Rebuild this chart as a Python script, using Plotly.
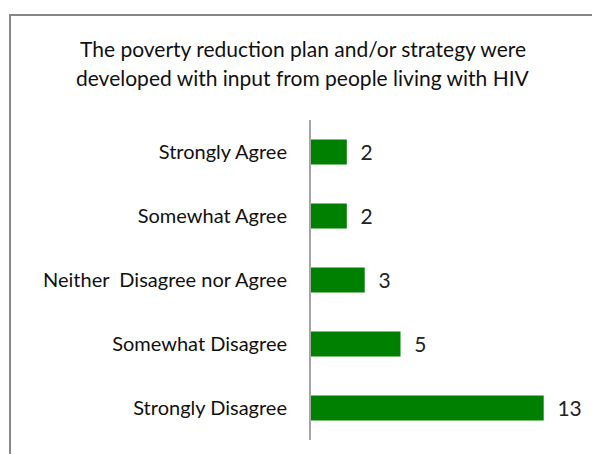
import plotly.graph_objects as go

categories = ["Strongly Agree", "Somewhat Agree", "Neither  Disagree nor Agree", "Somewhat Disagree", "Strongly Disagree"]
values = [2, 2, 3, 5, 13]
title_lines = ["The poverty reduction plan and/or strategy were", "developed with input from people living with HIV"]

W, H = 592, 454
L, R, T, B = 311, 12, 120, 14
pw = W - L - R
ph = H - T - B
FONT = "Lato, 'Open Sans', sans-serif"

fig = go.Figure(go.Bar(
    y=categories, x=values, orientation="h",
    marker=dict(color="#008000", line=dict(width=0)),
    width=0.39,
    text=["\u00a0\u00a0" + str(v) for v in values],
    textposition="outside", cliponaxis=False,
    textfont=dict(size=21, color="#222222", family=FONT),
))

def px_x(p):
    return (p - L) / pw

def px_y(p):
    return (H - B - p) / ph

shapes = [dict(type="rect", xref="paper", yref="paper",
               x0=px_x(10), x1=px_x(W + 20), y0=px_y(H + 20), y1=px_y(15),
               line=dict(color="#878787", width=2), fillcolor="rgba(0,0,0,0)")]

annotations = []
for i, line in enumerate(title_lines):
    annotations.append(dict(text=line, xref="paper", yref="paper",
                            x=px_x(303), y=px_y(49 + i * 28), showarrow=False,
                            xanchor="center", yanchor="middle",
                            font=dict(size=21, color="#111111", family=FONT)))

fig.update_layout(
    width=W, height=H,
    margin=dict(l=L, r=R, t=T, b=B, pad=0),
    paper_bgcolor="white", plot_bgcolor="white",
    showlegend=False,
    shapes=shapes, annotations=annotations,
    xaxis=dict(range=[0, pw / 17.9], visible=False, fixedrange=True),
    yaxis=dict(categoryorder="array", categoryarray=categories, autorange="reversed",
               showline=True, linecolor="#a6a6a6", linewidth=2, showgrid=False,
               ticks="", ticklabelstandoff=18,
               tickfont=dict(size=20, color="#111111", family=FONT)),
)

fig.write_html("out.html")
